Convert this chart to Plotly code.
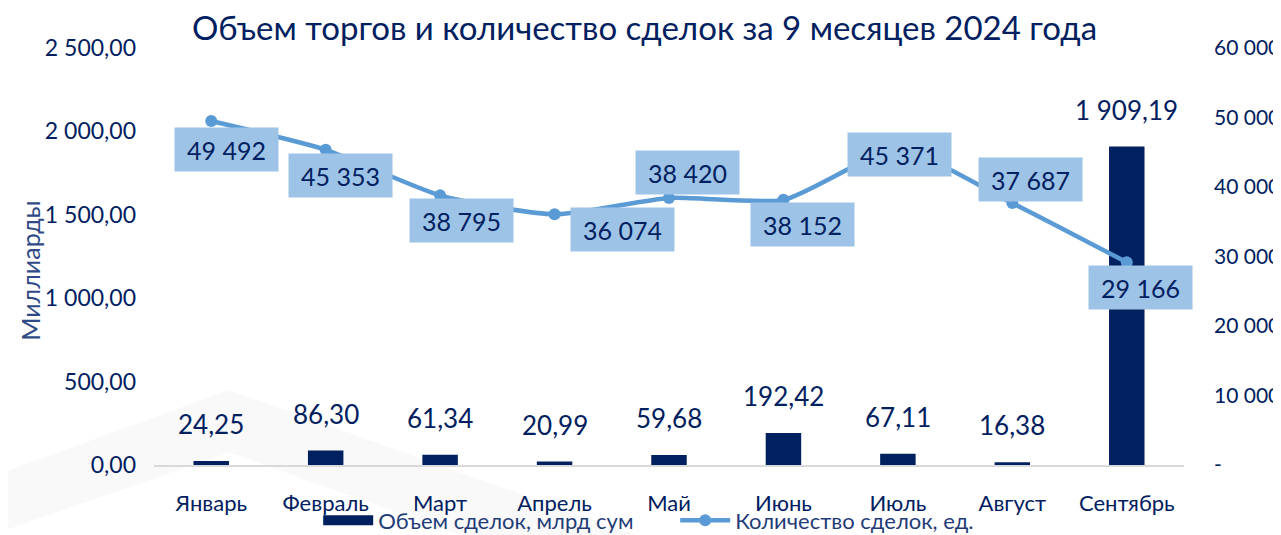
import plotly.graph_objects as go

# ─── данные ───
MONTHS = ["Январь", "Февраль", "Март", "Апрель", "Май", "Июнь", "Июль", "Август", "Сентябрь"]
VOLUME_BLN = [24.25, 86.30, 61.34, 20.99, 59.68, 192.42, 67.11, 16.38, 1909.19]
DEALS = [49492, 45353, 38795, 36074, 38420, 38152, 45371, 37687, 29166]

LEFT_TICKS = [0, 500, 1000, 1500, 2000, 2500]
LEFT_TICKTEXT = ["0,00", "500,00", "1 000,00", "1 500,00", "2 000,00", "2 500,00"]
RIGHT_TICKS = [0, 10000, 20000, 30000, 40000, 50000, 60000]
RIGHT_TICKTEXT = ["-", "10 000", "20 000", "30 000", "40 000", "50 000", "60 000"]

# смещения подписей линии (px: вправо, вниз), как в исходном Excel
LABEL_OFFSETS = [(15, 28), (15, 26), (21, 25), (68, 15), (18, -25),
                 (19, 25), (2, 5), (18, -24), (14, 25)]

NAVY = "#002060"
LINE_BLUE = "#5B9BD5"
BOX_BLUE = "#9DC3E6"
FONT = "Lato, 'Open Sans', sans-serif"


def fmt_ru(v, decimals):
    s = f"{v:,.{decimals}f}"
    return s.replace(",", " ").replace(".", ",")


fig = go.Figure()

fig.add_trace(go.Bar(
    x=MONTHS, y=VOLUME_BLN,
    marker=dict(color=NAVY, line=dict(width=0)),
    width=0.31,
    name="Объем сделок, млрд сум",
    showlegend=False,
))
# широкая плашка в легенде, как в Excel
fig.add_trace(go.Scatter(
    x=[None], y=[None], mode="lines",
    line=dict(color=NAVY, width=15),
    name="Объем сделок, млрд сум",
))

fig.add_trace(go.Scatter(
    x=MONTHS, y=DEALS,
    yaxis="y2",
    mode="lines+markers",
    line=dict(color=LINE_BLUE, width=4.5, shape="spline", smoothing=0.6),
    marker=dict(color=LINE_BLUE, size=12),
    name="Количество сделок, ед.",
))

annotations = []
for m, v in zip(MONTHS, VOLUME_BLN):
    annotations.append(dict(
        x=m, y=v, xref="x", yref="y", text=fmt_ru(v, 2),
        showarrow=False, yshift=37,
        font=dict(size=26, color=NAVY, family=FONT),
    ))
for m, v, (dx, dy) in zip(MONTHS, DEALS, LABEL_OFFSETS):
    annotations.append(dict(
        x=m, y=v, xref="x", yref="y2", text=fmt_ru(v, 0),
        showarrow=False, xshift=dx, yshift=-dy,
        bgcolor=BOX_BLUE, borderpad=7, width=89, height=29,
        font=dict(size=25, color=NAVY, family=FONT),
    ))

# подпись левой оси (в Excel она чуть ниже центра)
annotations.append(dict(
    text="Миллиарды", xref="paper", yref="paper", x=-0.1204, y=0.468,
    xanchor="center", yanchor="middle",
    textangle=-90, showarrow=False,
    font=dict(size=25, color="#2F4A86", family=FONT),
))

# страница даёт отступ 8px, поэтому фигура чуть меньше окна
fig.update_layout(
    width=1273, height=527,
    paper_bgcolor="white", plot_bgcolor="rgba(0,0,0,0)",
    margin=dict(l=146, r=97, t=40, b=70, autoexpand=False),
    font=dict(family=FONT, color=NAVY),
    title=dict(
        text="Объем торгов и количество сделок за 9 месяцев 2024 года",
        x=0.5, xanchor="center", y=0.962, yanchor="middle",
        font=dict(size=33, color=NAVY, family=FONT),
    ),
    showlegend=True,
    legend=dict(
        orientation="h", x=0.506, xanchor="center", y=-0.133, yanchor="middle",
        font=dict(size=22, color="#1F3C78", family=FONT),
        bgcolor="rgba(0,0,0,0)",
        itemwidth=50, entrywidth=292, traceorder="normal",
    ),
    annotations=annotations,
    shapes=[dict(
        type="path", xref="paper", yref="paper", layer="below",
        path="M -0.16 -0.03 L 0.073 0.18 L 0.47 -0.17 L 0.30 -0.17 "
             "L 0.073 0.03 L -0.16 -0.17 Z",
        fillcolor="rgba(120,120,130,0.045)", line=dict(width=0),
    )],
)

fig.update_xaxes(
    automargin=False, range=[-0.5, 8.5],
    showgrid=False, showline=True, linecolor="#D9D9D9", linewidth=2,
    ticks="", tickfont=dict(size=22, color=NAVY), ticklabelstandoff=18,
)
fig.update_yaxes(
    automargin=False,
    range=[0, 2500], tickvals=LEFT_TICKS, ticktext=LEFT_TICKTEXT,
    showgrid=False, zeroline=False, ticks="",
    tickfont=dict(size=23, color=NAVY), ticklabelstandoff=17,
)
fig.update_layout(yaxis2=dict(
    automargin=False,
    overlaying="y", side="right", range=[0, 60000],
    tickvals=RIGHT_TICKS, ticktext=RIGHT_TICKTEXT,
    showgrid=False, zeroline=False, ticks="",
    tickfont=dict(size=21, color=NAVY), ticklabelstandoff=29,
))

fig.write_html("out.html")
